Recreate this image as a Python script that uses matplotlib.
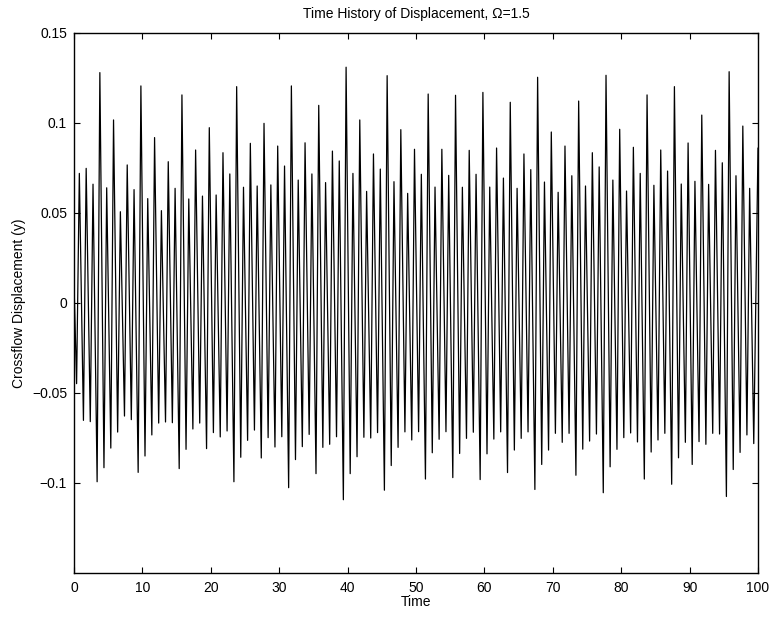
import numpy as np
import matplotlib
matplotlib.use("Agg")
from matplotlib import pyplot as plt

plt.rcParams['font.family'] = ['Liberation Sans', 'DejaVu Sans']

# displacement at the two ends of the record
y_start = 0.011
y_end = 0.086

# successive crests of the crossflow response (one per cycle)
peaks = [0.072, 0.0748, 0.066, 0.128, 0.064, 0.1017, 0.0507, 0.0767, 0.063, 0.1206,
         0.058, 0.0919, 0.0513, 0.0785, 0.0637, 0.1156, 0.0578, 0.085, 0.0594, 0.0974,
         0.060, 0.0835, 0.0717, 0.1202, 0.0643, 0.0887, 0.065, 0.0998, 0.0656, 0.0872,
         0.0761, 0.1206, 0.0683, 0.089, 0.0717, 0.1098, 0.0669, 0.0844, 0.0789, 0.131,
         0.072, 0.1017, 0.062, 0.0828, 0.0744, 0.1263, 0.0674, 0.0963, 0.0609, 0.0854,
         0.0715, 0.1161, 0.0644, 0.0854, 0.0709, 0.1154, 0.0643, 0.0848, 0.0715, 0.117,
         0.0644, 0.0861, 0.0694, 0.1115, 0.0637, 0.0828, 0.0741, 0.1254, 0.0672, 0.095,
         0.0615, 0.0872, 0.0707, 0.1122, 0.065, 0.0835, 0.0756, 0.1265, 0.0683, 0.0965,
         0.0622, 0.0865, 0.072, 0.1156, 0.0654, 0.085, 0.0733, 0.1202, 0.0661, 0.0889,
         0.0676, 0.1044, 0.0659, 0.0848, 0.0779, 0.1285, 0.0707, 0.0983, 0.0637]

# successive troughs
troughs = [-0.0448, -0.0652, -0.0659, -0.0993, -0.0915, -0.0806, -0.0717, -0.0628, -0.0648, -0.0941,
           -0.085, -0.0733, -0.0667, -0.0661, -0.0665, -0.092, -0.0813, -0.070, -0.0667, -0.0809,
           -0.072, -0.0744, -0.0711, -0.0993, -0.0857, -0.0763, -0.0706, -0.0861, -0.0748, -0.080,
           -0.0743, -0.1026, -0.087, -0.0798, -0.073, -0.0948, -0.0802, -0.0785, -0.0743, -0.1093,
           -0.0948, -0.0854, -0.0746, -0.075, -0.072, -0.104, -0.0903, -0.0802, -0.0716, -0.0761,
           -0.0715, -0.0978, -0.0832, -0.0757, -0.0715, -0.097, -0.0836, -0.0752, -0.0718, -0.0981,
           -0.0838, -0.0756, -0.0716, -0.0942, -0.0817, -0.0752, -0.0716, -0.1036, -0.0897, -0.0817,
           -0.0724, -0.0774, -0.0724, -0.0957, -0.0812, -0.0767, -0.0728, -0.1054, -0.091, -0.0813,
           -0.0748, -0.0722, -0.0772, -0.0978, -0.0828, -0.0761, -0.0724, -0.1007, -0.086, -0.0774,
           -0.0897, -0.077, -0.0785, -0.0724, -0.0728, -0.1075, -0.0925, -0.083, -0.0733, -0.0781]

# interleave troughs and crests, one cycle per time unit
n = np.arange(1, len(troughs) + 1)
t_tr = n - 0.62
t_pk = n[:len(peaks)] - 0.22

t = [0.0]
y = [y_start]
for i in range(len(troughs)):
    t.append(t_tr[i]); y.append(troughs[i])
    if i < len(peaks):
        t.append(t_pk[i]); y.append(peaks[i])
t.append(100.0); y.append(y_end)

fig = plt.figure(figsize=(7.74, 6.17), dpi=100)
ax = fig.add_axes([74/774, 1-573/617, (758-74)/774, (573-33)/617])
ax.plot(t, y, color='k', linewidth=0.9)

ax.set_xlim(0, 100)
ax.set_ylim(-0.15, 0.15)
ax.set_xticks(np.arange(0, 101, 10))
ax.set_yticks([-0.1, -0.05, 0, 0.05, 0.1, 0.15])
ax.set_yticklabels(['\u22120.1', '\u22120.05', '0', '0.05', '0.1', '0.15'])
ax.tick_params(direction='in', length=4.3, width=0.8, top=True, right=True, labelsize=10)
ax.tick_params(axis='y', pad=5)
ax.tick_params(axis='x', pad=6)
for s in ax.spines.values():
    s.set_linewidth(1.0)

ax.set_title('Time History of Displacement, \u03a9=1.5', fontsize=10, pad=11)
ax.set_xlabel('Time', fontsize=10, labelpad=0)
ax.set_ylabel('Crossflow Displacement (y)', fontsize=10, labelpad=4)

fig.savefig('out.png', dpi=100)
